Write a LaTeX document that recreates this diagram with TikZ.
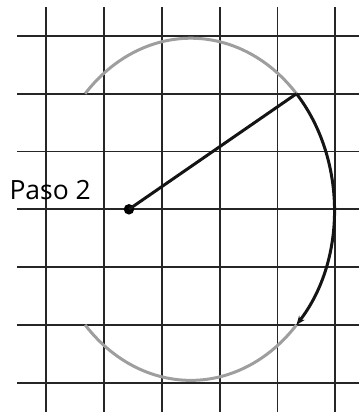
\documentclass[tikz,border=0pt]{standalone}
\usepackage{fontspec}
\setmainfont{Open Sans}
\usepackage{tikz}
\usetikzlibrary{arrows.meta}

\begin{document}
\begin{tikzpicture}[x=57.8pt, y=57.8pt]
    \tikzstyle{gridline} = [draw, line width=1.8pt, black!85]
    \tikzstyle{grayarc} = [draw, line width=3pt, black!38]
    \tikzstyle{line} = [draw, line width=3pt, black!92]
    \tikzstyle{centerdot} = [circle, fill=black, inner sep=0pt, minimum size=10.5pt]
    \tikzstyle{steptext} = [font=\fontsize{26.5}{30}\selectfont, inner sep=0pt, anchor=base west]

    \useasboundingbox (-0.801,-0.5415) rectangle (5.41,6.621);

    % grid
    \foreach \i in {0,...,5} \draw[gridline] (\i,-0.5) -- (\i,6.5);
    \foreach \j in {0,...,6} \draw[gridline] (-0.5,\j) -- (5.41,\j);

    % ellipse points
    \coordinate (ctr) at (2.5,3);
    \path (ctr) ++(42.5:2.48 and 2.96) coordinate (rim);
    \path (ctr) ++(222.5:2.48 and 2.96) coordinate (lowleft);

    \path [grayarc] (rim) arc[start angle=42.5, end angle=137.5, x radius=2.48, y radius=2.96];
    \path [grayarc] (lowleft) arc[start angle=222.5, end angle=317.5, x radius=2.48, y radius=2.96];
    \path [line, -{Stealth[length=9pt, width=7pt]}] (rim) arc[start angle=42.5, end angle=-42.5, x radius=2.48, y radius=2.96];

    \node [centerdot] (pivot) at (1.43,3) {};
    \path [line] (pivot.center) -- (rim);

    \node [steptext] (paso) at (-0.64,3.173) {Paso 2};
\end{tikzpicture}
\end{document}
